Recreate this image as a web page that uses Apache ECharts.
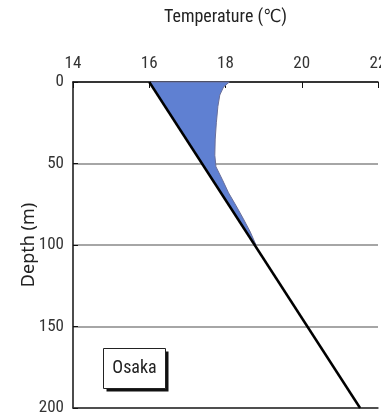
<!DOCTYPE html>
<html>
<head>
<meta charset="utf-8">
<script src="https://cdn.jsdelivr.net/npm/echarts@6/dist/echarts.min.js"></script>
<style>html,body{margin:0;padding:0;background:#fff}#c{width:381px;height:420px}</style>
</head>
<body>
<div id="c"></div>
<script>
var xTicks = [14, 16, 18, 20, 22];
var yTicks = [0, 50, 100, 150, 200];
// Linear reference gradient line (temperature, depth)
var lineTemp = [16.0, 21.53];
var lineDepth = [0, 200];
// Observed profile (temperature, depth)
var profDepth = [0, 3, 8, 15, 25, 35, 45, 52, 60, 68, 76, 84, 92, 100];
var profTemp = [18.1, 17.95, 17.85, 17.8, 17.76, 17.73, 17.72, 17.75, 17.92, 18.08, 18.28, 18.47, 18.65, 18.8];
var labelText = 'Osaka';

var FONT = '"Roboto Condensed", "DejaVu Sans Condensed", "Liberation Sans Narrow", sans-serif';
var FONT2 = '"Noto Sans", "Liberation Sans", sans-serif';

function lineAt(d) {
  return lineTemp[0] + (lineTemp[1] - lineTemp[0]) * (d - lineDepth[0]) / (lineDepth[1] - lineDepth[0]);
}

var chart = echarts.init(document.getElementById('c'), null, {renderer: 'canvas'});
chart.setOption({
  animation: false,
  backgroundColor: '#fff',
  grid: {left: 73, right: 3, top: 82, bottom: 12, containLabel: false, outerBoundsMode: 'none'},
  xAxis: [{
    type: 'value', position: 'top', min: 14, max: 22, interval: 2,
    name: 'Temperature (℃)', nameLocation: 'middle', nameGap: 56, nameMoveOverlap: false,
    nameTextStyle: {fontFamily: FONT, fontSize: 18, color: '#222'},
    axisLine: {show: true, lineStyle: {color: '#111', width: 1.5}},
    axisTick: {show: true, inside: true, length: 6, lineStyle: {color: '#111'}},
    axisLabel: {fontFamily: FONT, fontSize: 17, color: '#333', margin: 10},
    splitLine: {show: false}
  }, {
    type: 'value', position: 'bottom', min: 14, max: 22, interval: 2,
    axisLine: {show: true, lineStyle: {color: '#333', width: 1.5}},
    axisTick: {show: false}, axisLabel: {show: false}, splitLine: {show: false}
  }],
  yAxis: {
    type: 'value', inverse: true, min: 0, max: 200, interval: 50,
    name: 'Depth (m)', nameLocation: 'middle', nameGap: 35, nameRotate: 90, nameMoveOverlap: false,
    nameTextStyle: {fontFamily: FONT2, fontSize: 18, color: '#222'},
    axisLine: {show: true, lineStyle: {color: '#111', width: 1.5}},
    axisTick: {show: true, inside: true, length: 5, lineStyle: {color: '#111'}},
    axisLabel: {fontFamily: FONT, fontSize: 17, color: '#333', margin: 9},
    splitLine: {show: true, lineStyle: {color: '#888', width: 1.5}}
  },
  graphic: [{
    type: 'group', left: 103, top: 348,
    children: [
      {type: 'rect', shape: {x: 3, y: 3, width: 62, height: 40}, style: {fill: '#111'}},
      {type: 'rect', shape: {x: 0, y: 0, width: 62, height: 40}, style: {fill: '#fff', stroke: '#222', lineWidth: 1}},
      {type: 'text', x: 31, y: 20, style: {text: labelText, fontFamily: FONT, fontSize: 18, fill: '#222', align: 'center', verticalAlign: 'middle'}}
    ]
  }],
  series: [{
    type: 'custom',
    coordinateSystem: 'cartesian2d',
    data: [[profTemp[0], profDepth[0]]],
    z: 2,
    renderItem: function (params, api) {
      var pts = [];
      for (var i = 0; i < profDepth.length; i++) pts.push(api.coord([profTemp[i], profDepth[i]]));
      for (var j = profDepth.length - 1; j >= 0; j--) pts.push(api.coord([lineAt(profDepth[j]), profDepth[j]]));
      return {type: 'polygon', shape: {points: pts}, style: {fill: '#5f80d2', stroke: '#6a6f9a', lineWidth: 1}};
    }
  }, {
    type: 'line',
    data: [[lineTemp[0], lineDepth[0]], [lineTemp[1], lineDepth[1]]],
    symbol: 'none',
    z: 3,
    lineStyle: {color: '#000', width: 2.5}
  }]
});
</script>
</body>
</html>
